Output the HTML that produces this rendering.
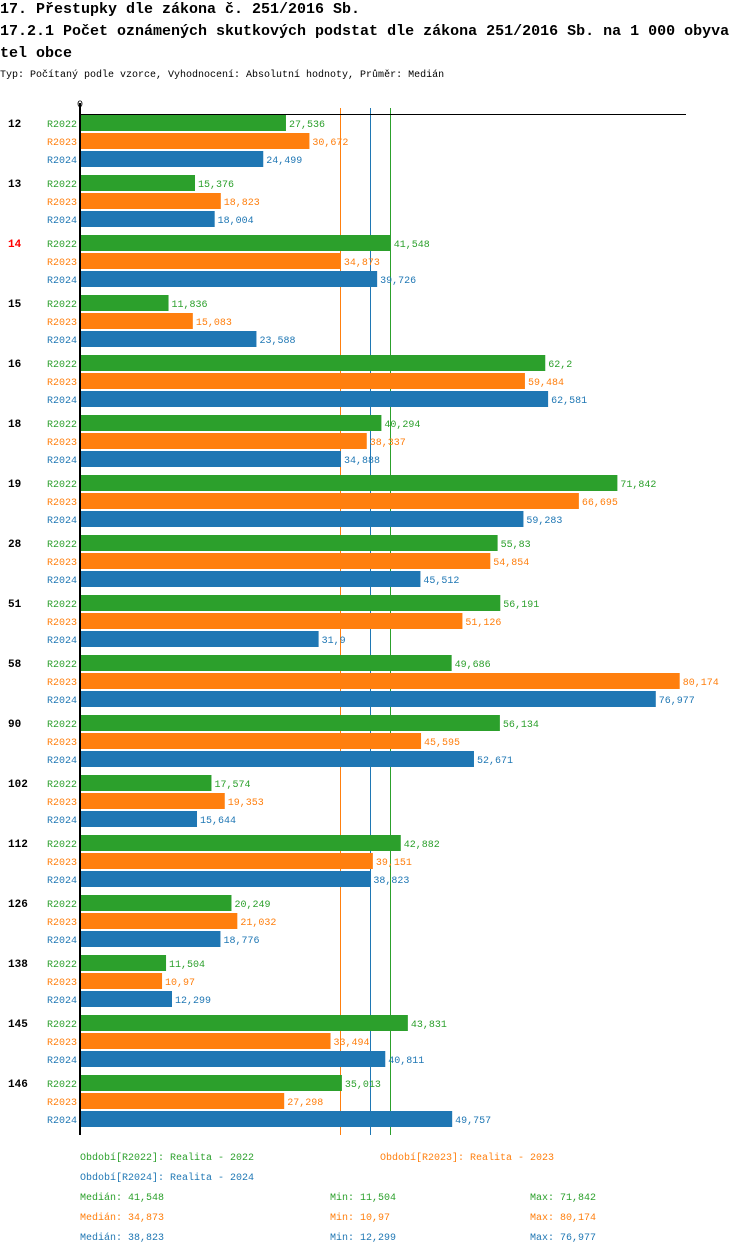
<!DOCTYPE html>
<html><head><meta charset="utf-8"><style>
body{margin:0;background:#fff;width:750px;height:1254px;overflow:hidden;font-family:"Liberation Mono",monospace}
svg text{font-family:"Liberation Mono",monospace}
</style></head><body>
<svg id="c" width="750" height="1254" xmlns="http://www.w3.org/2000/svg">
<text x="0" y="13" font-size="15" font-weight="bold">17. Přestupky dle zákona č. 251/2016 Sb.</text>
<text x="0" y="35" font-size="15" font-weight="bold">17.2.1 Počet oznámených skutkových podstat dle zákona 251/2016 Sb. na 1 000 obyva</text>
<text x="0" y="57" font-size="15" font-weight="bold">tel obce</text>
<text x="0" y="77" font-size="10">Typ: Počítaný podle vzorce, Vyhodnocení: Absolutní hodnoty, Průměr: Medián</text>
<text x="77" y="107" font-size="10">0</text>
<g id="g"></g>
</svg>
<script>
const categories=["12","13","14","15","16","18","19","28","51","58","90","102","112","126","138","145","146"];
const series=["R2022","R2023","R2024"];
const v2022=[27.536,15.376,41.548,11.836,62.2,40.294,71.842,55.83,56.191,49.686,56.134,17.574,42.882,20.249,11.504,43.831,35.013];
const v2023=[30.672,18.823,34.873,15.083,59.484,38.337,66.695,54.854,51.126,80.174,45.595,19.353,39.151,21.032,10.97,33.494,27.298];
const v2024=[24.499,18.004,39.726,23.588,62.581,34.888,59.283,45.512,31.9,76.977,52.671,15.644,38.823,18.776,12.299,40.811,49.757];
const medians=[41.548,34.873,38.823];
const mins=[11.504,10.97,12.299];
const maxs=[71.842,80.174,76.977];
const colors=["#2ca02c","#ff7f0e","#1f77b4"];
const vals=[v2022,v2023,v2024];
const NS="http://www.w3.org/2000/svg";
const g=document.getElementById('g');
const x=v=>80+v*7.48;
const fmt=v=>String(v).replace('.',',');
function el(t,a,txt){const e=document.createElementNS(NS,t);for(const k in a)e.setAttribute(k,a[k]);if(txt!==undefined)e.textContent=txt;g.appendChild(e);return e;}
medians.forEach((m,j)=>{
  const mx=Math.floor(x(m))+0.5;
  const l=el('line',{x1:mx,x2:mx,y1:108,y2:1135,stroke:colors[j],'stroke-width':1});
  
  
});
categories.forEach((c,i)=>{
  const gy=115+i*60;
  const t=el('text',{x:8,y:gy+12,'font-size':11,'font-weight':'bold',fill:c==="14"?"#ff0000":"#000"},c);
  
  
  series.forEach((s,j)=>{
    const y=gy+j*18,v=vals[j][i];
    const l=el('text',{x:47,y:y+12,'font-size':10,fill:colors[j]},s);
    
    
    const r=el('rect',{x:80,y:y,width:x(v)-80,height:16,fill:colors[j]});
    
    
    const vt=el('text',{x:x(v)+3,y:y+12,'font-size':10,fill:colors[j]},fmt(v));
    
    
  });
});
const ax=el('line',{x1:80,x2:80,y1:103,y2:1135,stroke:'#000','stroke-width':2});


const tx=el('line',{x1:80,x2:686,y1:114.5,y2:114.5,stroke:'#000','stroke-width':1});


const leg=[["Období[R2022]: Realita - 2022",80,1160,0],["Období[R2023]: Realita - 2023",380,1160,1],["Období[R2024]: Realita - 2024",80,1180,2]];
leg.forEach(([t,lx,ly,j])=>{
  const e=el('text',{x:lx,y:ly,'font-size':10,fill:colors[j]},t);
  
  
});
series.forEach((s,j)=>{
  const y=1200+j*20;
  const a=el('text',{x:80,y:y,'font-size':10,fill:colors[j]},"Medián: "+fmt(medians[j]));
  
  
  const b=el('text',{x:330,y:y,'font-size':10,fill:colors[j]},"Min: "+fmt(mins[j]));
  
  
  const d=el('text',{x:530,y:y,'font-size':10,fill:colors[j]},"Max: "+fmt(maxs[j]));
  
  
});
</script>
</body></html>
